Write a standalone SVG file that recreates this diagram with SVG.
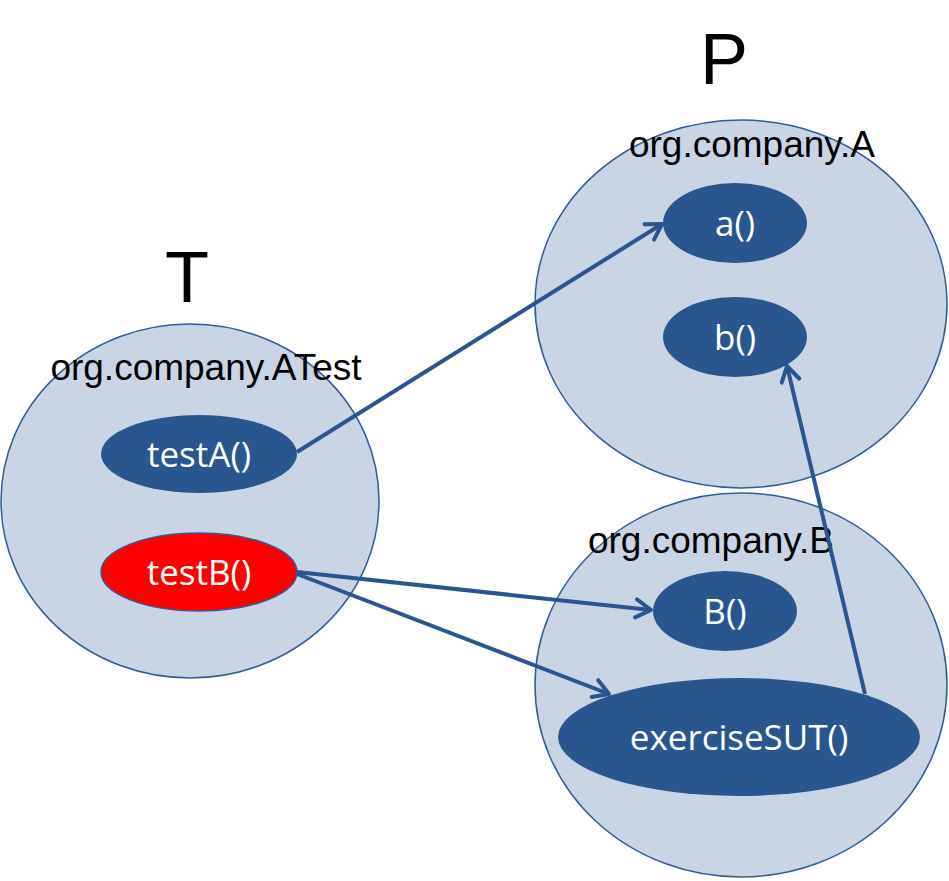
<svg xmlns="http://www.w3.org/2000/svg" width="949" height="881" viewBox="0 0 949 881">
<defs>
<style>
.grp{fill:#c9d5e4;stroke:#2f5d98;stroke-width:1.5}
.node{fill:#2a568f}
.red{fill:#ff0000;stroke:#2f5d98;stroke-width:1.5}
.lbl{font-family:"Liberation Sans",Arial,sans-serif;font-size:37px;fill:#000;text-anchor:middle}
.big{font-family:"Liberation Sans",Arial,sans-serif;font-size:72px;fill:#000;text-anchor:middle}
.nt{font-family:"Open Sans","DejaVu Sans",sans-serif;font-size:35px;fill:#fff;text-anchor:middle}
.edge{stroke:#2b5590;stroke-width:4;fill:none;marker-end:url(#ah)}
</style>
<marker id="ah" markerUnits="userSpaceOnUse" markerWidth="24" markerHeight="24" viewBox="-20 -12 24 24" refX="0" refY="0" orient="auto">
<path d="M-15,-9 L0,0 L-15,9" fill="none" stroke="#2b5590" stroke-width="4" stroke-linecap="round" stroke-linejoin="round"/>
</marker>
</defs>
<text class="big" x="187" y="302">T</text>
<text class="big" x="724" y="84">P</text>
<g id="ATest">
<ellipse class="grp" cx="190" cy="501" rx="189" ry="177"/>
<text class="lbl" x="206" y="380">org.company.ATest</text>
</g>
<g id="A">
<ellipse class="grp" cx="741" cy="304" rx="206" ry="184"/>
<text class="lbl" x="752" y="157">org.company.A</text>
</g>
<g id="B">
<ellipse class="grp" cx="741" cy="685" rx="206" ry="192"/>
<text class="lbl" x="711" y="553">org.company.B</text>
</g>
<g id="testA">
<ellipse class="node" cx="199" cy="454" rx="98" ry="39"/>
<text class="nt" x="199" y="467">testA()</text>
</g>
<g id="testB">
<ellipse class="red" cx="199" cy="572" rx="98" ry="39"/>
<text class="nt" x="199" y="585">testB()</text>
</g>
<g id="a">
<ellipse class="node" cx="735" cy="223" rx="72" ry="40"/>
<text class="nt" x="735" y="236">a()</text>
</g>
<g id="b">
<ellipse class="node" cx="735" cy="337" rx="72" ry="40"/>
<text class="nt" x="735" y="350">b()</text>
</g>
<g id="Bctor">
<ellipse class="node" cx="725" cy="611" rx="72" ry="40"/>
<text class="nt" x="725" y="624">B()</text>
</g>
<g id="exerciseSUT">
<ellipse class="node" cx="739" cy="737" rx="181" ry="59"/>
<text class="nt" x="739" y="750">exerciseSUT()</text>
</g>
<g id="connectors">
<line class="edge" x1="297" y1="452" x2="662" y2="224"/>
<line class="edge" x1="297" y1="572" x2="651" y2="610"/>
<line class="edge" x1="297" y1="574" x2="609" y2="694"/>
<line class="edge" x1="865" y1="694" x2="787" y2="366"/>
</g>
</svg>
